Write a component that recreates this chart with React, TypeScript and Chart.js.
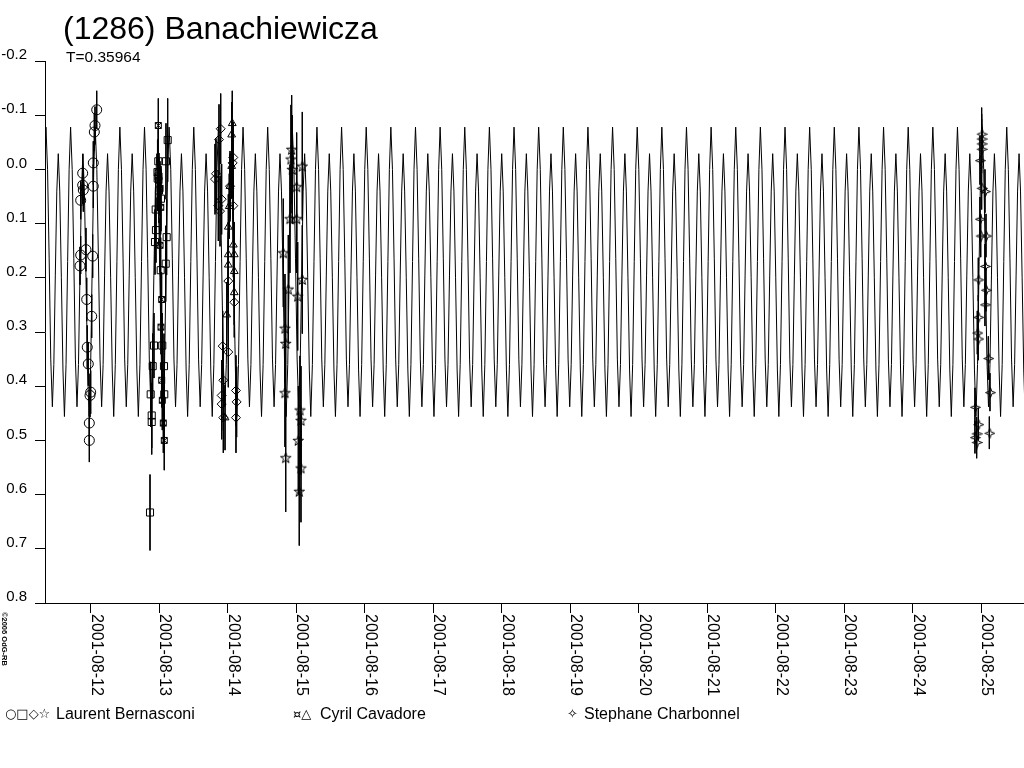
import React, { useEffect, useRef } from 'react';
import { Chart, registerables } from 'chart.js';

Chart.register(...registerables);

const TITLE = '(1286) Banachiewicza';
const PERIOD_TEXT = 'T=0.35964';
const CREDIT = '©2006 OdG-RB';
const FONT = '"Liberation Sans", Arial, Helvetica, sans-serif';
const SYMBOL_FONT = '"DejaVu Sans", sans-serif';

// rotation period (days)
const PERIOD = 0.35964;

// x axis: day of August 2001
const X_MIN = 11.333;
const X_MAX = 25.625;
const xTickDays = [12, 13, 14, 15, 16, 17, 18, 19, 20, 21, 22, 23, 24, 25];
const yTickValues = [-0.2, -0.1, 0.0, 0.1, 0.2, 0.3, 0.4, 0.5, 0.6, 0.7, 0.8];

// model lightcurve over one rotation, phase 0 = brighter maximum
const modelPhase = [0, 0.065, 0.13, 0.195, 0.26, 0.32, 0.38, 0.44, 0.5, 0.56, 0.625, 0.69, 0.75, 0.815, 0.88, 0.94];
const modelMag = [-0.078, 0.0, 0.165, 0.35, 0.438, 0.36, 0.195, 0.04, -0.029, 0.04, 0.2, 0.37, 0.456, 0.36, 0.17, 0.0];
const modelEpoch = 11.347; // a brighter maximum, day of Aug 2001

// observations: [day of Aug 2001, relative magnitude, error]
const bernasconiN1 = [
  [12.088, -0.110, 0.035], [12.063, -0.081, 0.035], [12.053, -0.069, 0.035], [12.038, -0.012, 0.04],
  [11.883, 0.007, 0.035], [11.883, 0.029, 0.035], [11.892, 0.038, 0.04], [11.854, 0.057, 0.035],
  [12.038, 0.031, 0.04], [11.931, 0.148, 0.04], [11.854, 0.158, 0.035], [12.029, 0.160, 0.04],
  [11.844, 0.178, 0.035], [11.942, 0.240, 0.04], [12.015, 0.271, 0.04], [11.950, 0.328, 0.04],
  [11.965, 0.359, 0.04], [12.000, 0.411, 0.04], [11.990, 0.417, 0.04], [11.980, 0.468, 0.04],
  [11.980, 0.500, 0.04],
];
const bernasconiN2 = [
  [13.124, -0.054, 0.077], [12.987, -0.015, 0.06], [13.099, -0.015, 0.07], [12.978, 0.017, 0.06],
  [12.975, 0.005, 0.06], [12.990, 0.013, 0.06], [12.997, 0.039, 0.06], [13.026, 0.054, 0.06],
  [12.949, 0.074, 0.06], [12.953, 0.112, 0.06], [12.939, 0.134, 0.06], [13.109, 0.125, 0.07],
  [13.095, 0.174, 0.07], [13.022, 0.186, 0.06], [12.924, 0.325, 0.06], [13.045, 0.325, 0.06],
  [12.905, 0.363, 0.06], [13.070, 0.363, 0.06], [12.876, 0.415, 0.06], [13.074, 0.415, 0.06],
  [12.891, 0.454, 0.06], [12.891, 0.466, 0.06], [12.866, 0.633, 0.07],
];
const bernasconiN3 = [
  [13.898, -0.075, 0.065], [13.873, -0.055, 0.065], [14.082, -0.022, 0.065], [14.073, -0.012, 0.065],
  [13.829, 0.008, 0.065], [13.815, 0.018, 0.065], [14.034, 0.031, 0.065], [13.912, 0.055, 0.065],
  [13.863, 0.067, 0.065], [14.082, 0.067, 0.065], [13.888, 0.077, 0.065], [14.009, 0.206, 0.065],
  [14.096, 0.245, 0.065], [13.927, 0.326, 0.065], [14.009, 0.337, 0.065], [13.936, 0.389, 0.065],
  [14.121, 0.408, 0.065], [13.912, 0.417, 0.065], [14.131, 0.429, 0.065], [13.912, 0.433, 0.065],
  [14.121, 0.458, 0.065], [13.936, 0.458, 0.065],
];
const bernasconiN4 = [
  [14.934, -0.037, 0.1], [14.924, -0.019, 0.1], [15.089, -0.006, 0.1], [14.943, 0.000, 0.1],
  [15.007, 0.032, 0.1], [14.909, 0.091, 0.1], [15.007, 0.091, 0.1], [14.812, 0.154, 0.1],
  [15.089, 0.203, 0.1], [14.885, 0.221, 0.1], [15.022, 0.234, 0.1], [14.836, 0.293, 0.1],
  [14.847, 0.321, 0.1], [14.836, 0.412, 0.1], [15.055, 0.444, 0.1], [15.070, 0.463, 0.1],
  [15.031, 0.500, 0.1], [14.847, 0.532, 0.1], [15.070, 0.551, 0.1], [15.045, 0.594, 0.1],
];
const cavadoreN2 = [
  [12.987, -0.081, 0.05], [12.983, 0.006, 0.05], [12.997, 0.020, 0.05], [13.012, 0.035, 0.05],
  [13.022, 0.070, 0.05], [13.012, 0.140, 0.05], [13.036, 0.240, 0.05], [13.026, 0.291, 0.05],
  [13.036, 0.389, 0.05], [13.045, 0.426, 0.055], [13.060, 0.468, 0.055], [13.074, 0.500, 0.055],
];
const cavadoreN3 = [
  [14.067, -0.085, 0.06], [14.058, -0.064, 0.06], [14.058, -0.006, 0.06], [14.034, 0.031, 0.06],
  [14.023, 0.068, 0.06], [14.009, 0.106, 0.06], [14.082, 0.139, 0.06], [14.009, 0.157, 0.06],
  [14.096, 0.157, 0.06], [14.009, 0.176, 0.06], [14.096, 0.188, 0.06], [14.096, 0.227, 0.06],
  [13.985, 0.268, 0.06], [13.961, 0.458, 0.06],
];
const charbonnelN5 = [
  [25.007, -0.066, 0.048], [25.007, -0.057, 0.045], [25.007, -0.048, 0.045], [25.007, -0.038, 0.045],
  [24.982, -0.017, 0.045], [25.007, 0.034, 0.04], [25.055, 0.040, 0.04], [24.982, 0.091, 0.04],
  [24.993, 0.122, 0.04], [25.070, 0.122, 0.04], [25.055, 0.178, 0.04], [24.958, 0.203, 0.04],
  [25.070, 0.222, 0.04], [25.055, 0.249, 0.04], [24.958, 0.272, 0.04], [24.943, 0.301, 0.04],
  [24.958, 0.312, 0.04], [25.104, 0.348, 0.04], [25.128, 0.411, 0.035], [24.909, 0.438, 0.035],
  [24.958, 0.470, 0.03], [25.119, 0.486, 0.03], [24.934, 0.487, 0.03], [24.909, 0.494, 0.03],
  [24.934, 0.503, 0.03],
];

const legendSymbols = ['○□◇☆', '¤△', '✧'];
const legendNames = ['Laurent Bernasconi', 'Cyril Cavadore', 'Stephane Charbonnel'];
const legendSymbolX = [5, 293, 567];
const legendNameX = [56, 320, 584];

function marker(size: number, draw: (c: CanvasRenderingContext2D, m: number) => void) {
  const cv = document.createElement('canvas');
  cv.width = size;
  cv.height = size;
  const c = cv.getContext('2d')!;
  c.strokeStyle = '#000';
  c.lineWidth = 1;
  c.beginPath();
  draw(c, size / 2);
  c.stroke();
  return cv;
}

const dayLabel = (d: number) => `2001-08-${String(d).padStart(2, '0')}`;

const textPlugin = {
  id: 'lcText',
  afterDraw(chart: any) {
    const { ctx } = chart;
    const xs = chart.scales.x;
    ctx.save();
    ctx.fillStyle = '#000';
    ctx.textAlign = 'left';
    ctx.textBaseline = 'alphabetic';
    ctx.font = `32px ${FONT}`;
    ctx.fillText(TITLE, 63, 39);
    ctx.font = `15.5px ${FONT}`;
    ctx.fillText(PERIOD_TEXT, 66, 62);

    // x tick labels, rotated clockwise, hanging under each tick
    ctx.font = `16px ${FONT}`;
    xTickDays.forEach((d) => {
      ctx.save();
      ctx.translate(xs.getPixelForValue(d) + 1, 614);
      ctx.rotate(Math.PI / 2);
      ctx.fillText(dayLabel(d), 0, 0);
      ctx.restore();
    });

    ctx.save();
    ctx.font = `bold 7.5px ${FONT}`;
    ctx.translate(2, 612);
    ctx.rotate(Math.PI / 2);
    ctx.fillText(CREDIT, 0, 0);
    ctx.restore();

    legendNames.forEach((name, i) => {
      ctx.font = `13px ${SYMBOL_FONT}`;
      ctx.fillText(legendSymbols[i], legendSymbolX[i], 718);
      ctx.font = `16px ${FONT}`;
      ctx.fillText(name, legendNameX[i], 719);
    });
    ctx.restore();
  },
};

export default function App() {
  const canvasRef = useRef<HTMLCanvasElement>(null);

  useEffect(() => {
    document.body.style.margin = '0';
    if (!canvasRef.current) return;

    // model curve: the one-rotation profile repeated with the period
    const curve: { x: number; y: number }[] = [];
    for (let k = -1; modelEpoch + k * PERIOD < X_MAX + PERIOD; k++) {
      modelPhase.forEach((p, i) => {
        curve.push({ x: modelEpoch + (k + p) * PERIOD, y: modelMag[i] });
      });
    }

    const star5 = marker(13, (c, m) => {
      for (let i = 0; i < 10; i++) {
        const r = i % 2 ? 2.2 : 5.5;
        const a = -Math.PI / 2 + (i * Math.PI) / 5;
        const px = m + r * Math.cos(a);
        const py = m + 0.5 + r * Math.sin(a);
        if (i) c.lineTo(px, py);
        else c.moveTo(px, py);
      }
      c.closePath();
    });
    const star4 = marker(12, (c) => {
      const pts = [[6, 1], [7.3, 4.7], [11, 6], [7.3, 7.3], [6, 11], [4.7, 7.3], [1, 6], [4.7, 4.7]];
      pts.forEach(([px, py], i) => (i ? c.lineTo(px + 0.5, py + 0.5) : c.moveTo(px + 0.5, py + 0.5)));
      c.closePath();
    });
    const crossSquare = marker(9, (c) => {
      c.rect(1.5, 1.5, 6, 6);
      c.moveTo(1.5, 1.5);
      c.lineTo(7.5, 7.5);
      c.moveTo(7.5, 1.5);
      c.lineTo(1.5, 7.5);
    });

    const series = [
      { data: bernasconiN1, style: 'circle', r: 5 },
      { data: bernasconiN2, style: 'rect', r: 5 },
      { data: bernasconiN3, style: 'rectRot', r: 4.5 },
      { data: bernasconiN4, style: star5, r: 5 },
      { data: cavadoreN2, style: crossSquare, r: 4 },
      { data: cavadoreN3, style: 'triangle', r: 4.5 },
      { data: charbonnelN5, style: star4, r: 5 },
    ];

    const markerSets = series.map((s) => ({
      type: 'line' as const,
      data: s.data.map(([d, m]) => ({ x: d, y: m })),
      showLine: false,
      pointStyle: s.style as any,
      pointRadius: s.r,
      pointBorderWidth: 1,
      pointBorderColor: '#000',
      pointBackgroundColor: 'rgba(0,0,0,0)',
    }));

    // error bars: one vertical segment per observation, gaps between them
    const errorBars = series.flatMap((s) =>
      s.data.flatMap(([d, m, e]) => [
        { x: d, y: m - e },
        { x: d, y: m + e },
        { x: d, y: null },
      ])
    );

    const grid = { display: true, drawOnChartArea: false, drawTicks: true, tickLength: 10, color: '#000', lineWidth: 1 };
    const border = { display: true, color: '#000', width: 1 };

    const chart = new Chart(canvasRef.current, {
      type: 'line',
      data: {
        datasets: [
          ...markerSets,
          {
            type: 'line',
            data: errorBars as any,
            borderColor: '#000',
            borderWidth: 1,
            pointRadius: 0,
            spanGaps: false,
          },
          {
            type: 'line',
            data: curve,
            borderColor: '#000',
            borderWidth: 1,
            pointRadius: 0,
          },
        ],
      },
      options: {
        responsive: false,
        animation: false,
        events: [],
        layout: { autoPadding: false, padding: { top: 61, left: 0, right: 0, bottom: 0 } },
        plugins: {
          legend: { display: false },
          title: { display: false },
          tooltip: { enabled: false },
        },
        scales: {
          x: {
            type: 'linear',
            min: X_MIN,
            max: X_MAX,
            afterBuildTicks: (s: any) => {
              s.ticks = xTickDays.map((v) => ({ value: v }));
            },
            afterFit: (s: any) => {
              s.height = 165;
            },
            ticks: { display: false },
            grid,
            border,
          },
          y: {
            type: 'linear',
            reverse: true,
            min: -0.2,
            max: 0.8,
            afterBuildTicks: (s: any) => {
              s.ticks = yTickValues.map((v) => ({ value: v }));
            },
            afterFit: (s: any) => {
              s.width = 45;
            },
            ticks: {
              padding: 8,
              labelOffset: -6,
              color: '#000',
              font: { family: FONT, size: 15 },
              callback: (v: any) => Number(v).toFixed(1),
            },
            grid,
            border,
          },
        },
      },
      plugins: [textPlugin],
    });

    return () => chart.destroy();
  }, []);

  return (
    <div style={{ width: 1024, height: 768 }}>
      <canvas ref={canvasRef} width={1024} height={768} style={{ display: 'block' }} />
    </div>
  );
}
